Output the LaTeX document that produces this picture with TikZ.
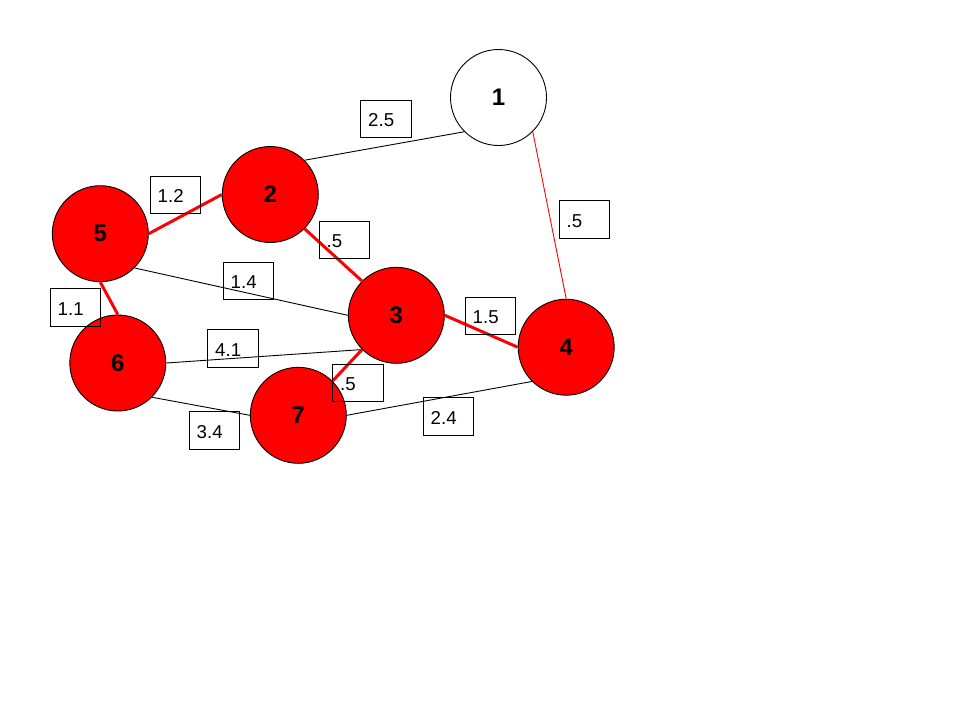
\documentclass[tikz,border=0pt]{standalone}
\usepackage{fontspec}
\setmainfont{Liberation Sans}
\begin{document}
\begin{tikzpicture}[x=1pt,y=-1pt,
  vert/.style={circle,draw=black,line width=0.9pt,fill=red,minimum size=96pt,inner sep=0pt,font=\fontsize{24}{24}\selectfont\bfseries},
  vertw/.style={vert,fill=white},
  thin/.style={draw=black,line width=0.9pt},
  thinred/.style={draw=red,line width=0.9pt},
  thick/.style={draw=red,line width=3pt},
  lbox/.style={rectangle,draw=black,line width=0.9pt,minimum width=50.5pt,minimum height=37.5pt,anchor=north west,inner sep=0pt},
  ltext/.style={anchor=base west,inner sep=0pt,font=\fontsize{18.67}{20}\selectfont}
]
\useasboundingbox (0,0) rectangle (960,720);
\fill[white] (0,0) rectangle (960,720);

% vertices
\node[vertw] (n1) at (498.5,97.5) {1};
\node[vert] (n2) at (270.3,194.5) {2};
\node[vert] (n5) at (100.3,233.7) {5};
\node[vert] (n3) at (396.3,315.3) {3};
\node[vert] (n4) at (566.2,347.2) {4};
\node[vert] (n6) at (117.8,363) {6};
\node[vert] (n7) at (298.3,415.3) {7};

% edges
\draw[thin] (n1.south west) -- (n2.north east);
\draw[thinred] (n1.south east) -- (n4.north);
\draw[thick] (n5.east) -- (n2.west);
\draw[thick] (n2.south east) -- (n3.north west);
\draw[thin] (n5.south east) -- (n3.west);
\draw[thick] (n5.south) -- (n6.north);
\draw[thick] (n3.east) -- (n4.west);
\draw[thin] (n6.east) -- (n3.south west);
\draw[thick] (n3.south west) -- (n7.north east);
\draw[thin] (n6.south east) -- (n7.west);
\draw[thin] (n7.east) -- (n4.south west);

% weight labels
\node[lbox] (b12) at (360,99.5) {};       \node[ltext] (t12) at (368,126.5) {2.5};
\node[lbox] (b25) at (149.5,175.5) {};    \node[ltext] (t25) at (157.5,202.5) {1.2};
\node[lbox] (b23) at (318.5,220.5) {};    \node[ltext] (t23) at (326.5,247.5) {.5};
\node[lbox] (b14) at (558.5,200) {};      \node[ltext] (t14) at (566.5,227) {.5};
\node[lbox] (b53) at (222.5,261.5) {};    \node[ltext] (t53) at (230.5,288.5) {1.4};
\node[lbox] (b56) at (49.5,288) {};       \node[ltext] (t56) at (57.5,315) {1.1};
\node[lbox] (b34) at (464.5,296.5) {};    \node[ltext] (t34) at (472.5,323.5) {1.5};
\node[lbox] (b63) at (207,329) {};        \node[ltext] (t63) at (215,356) {4.1};
\node[lbox] (b37) at (332,363.5) {};      \node[ltext] (t37) at (340,390.5) {.5};
\node[lbox] (b67) at (188.5,411) {};      \node[ltext] (t67) at (196.5,438) {3.4};
\node[lbox] (b74) at (422.5,397) {};      \node[ltext] (t74) at (430.5,424) {2.4};
\end{tikzpicture}
\end{document}
